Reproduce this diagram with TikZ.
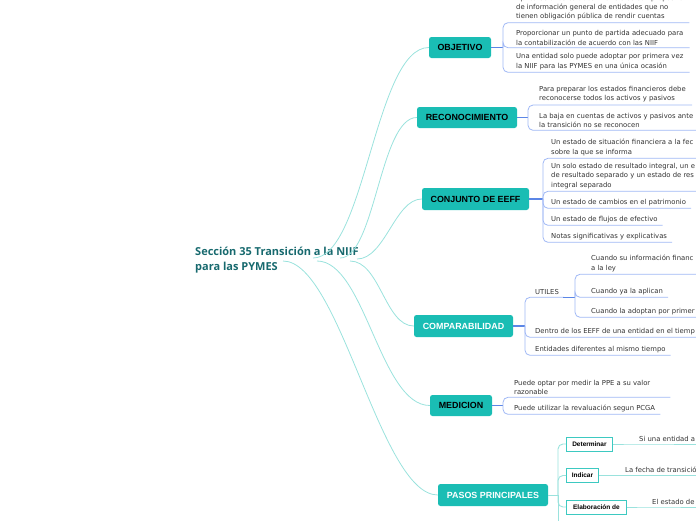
\documentclass[tikz,border=0pt]{standalone}
\usepackage{fontspec}
\setmainfont{Liberation Sans}
\newfontfamily\leaffont{DejaVu Sans}
\newfontfamily\rootfont{Open Sans}
\usetikzlibrary{calc}
\definecolor{teal1}{HTML}{1ABDB4}
\definecolor{rootc}{HTML}{17696E}
\definecolor{tealline}{HTML}{9AE2DD}
\definecolor{bluec}{HTML}{5B86E6}
\definecolor{bracketc}{HTML}{A0B8F5}
\definecolor{boxborder}{HTML}{3DC9C1}
\definecolor{textgray}{HTML}{333333}
\tikzset{
  mainbox/.style={fill=teal1, rounded corners=2.5pt, font=\bfseries\fontsize{8.9}{10}\selectfont, inner sep=0pt, minimum height=21pt, text=black},
  leaf/.style={font=\leaffont\fontsize{6.85}{9.3}\selectfont, align=left, anchor=south west, inner xsep=0pt, inner ysep=2.4pt, text=textgray},
  brk/.style={draw=bracketc, line width=0.8pt, rounded corners=5pt},
  conn/.style={draw=bluec, line width=1.6pt},
  rootlink/.style={draw=tealline, line width=0.8pt},
  plink/.style={draw=tealline, line width=0.9pt, rounded corners=5pt},
  pbox/.style={draw=boxborder, line width=0.9pt, fill=white, font=\bfseries\fontsize{6.5}{8}\selectfont, inner sep=0pt, minimum height=14pt, anchor=west},
  rootnode/.style={font=\rootfont\bfseries\fontsize{11}{15}\selectfont, text=rootc, align=left, anchor=north west, inner sep=0pt}
}
\begin{document}
\begin{tikzpicture}[x=1pt,y=-1pt]
\useasboundingbox (0,0) rectangle (696,520);
\clip (0,0) rectangle (696,520);

% root
\node[rootnode] (root) at (195,247) {Sección 35 Transición a la NIIF\\para las PYMES};
\coordinate (a1) at (313,258);
\coordinate (a2) at (340,258);
\coordinate (a3) at (357,259);
\coordinate (a4) at (350,261);
\coordinate (a5) at (317,261);
\coordinate (a6) at (283,261);

% main nodes
\node[mainbox, minimum width=62pt] (obj) at (460,47.5) {OBJETIVO};
\node[mainbox, minimum width=100pt] (rec) at (467,117.5) {RECONOCIMIENTO};
\node[mainbox, minimum width=107pt, minimum height=22pt] (con) at (475.5,199) {CONJUNTO DE EEFF};
\node[mainbox, minimum width=99pt, minimum height=22pt, text=white] (com) at (463.5,326) {COMPARABILIDAD};
\node[mainbox, minimum width=62pt] (med) at (461,405.5) {MEDICION};
\node[mainbox, minimum width=110pt, minimum height=22pt, text=white] (pas) at (493,495) {PASOS PRINCIPALES};

% root links
\draw[rootlink] (a1) .. controls (365,258) and (375,47.5) .. (obj.west);
\draw[rootlink] (a2) .. controls (375,258) and (380,117.5) .. (rec.west);
\draw[rootlink] (a3) .. controls (385,259) and (395,199) .. (con.west);
\draw[rootlink] (a4) .. controls (380,261) and (385,326) .. (com.west);
\draw[rootlink] (a5) .. controls (365,261) and (380,405.5) .. (med.west);
\draw[rootlink] (a6) .. controls (340,261) and (380,495) .. (pas.west);

% OBJETIVO
\coordinate (ob) at (503,47.5);
\node[leaf] (o1) at (516,22.7) {Aplicarse a los estados financieros con propósito\\de información general de entidades que no\\tienen obligación pública de rendir cuentas};
\node[leaf] (o2) at (516,47.7) {Proporcionar un punto de partida adecuado para\\la contabilización de acuerdo con las NIIF};
\node[leaf] (o3) at (516,72.3) {Una entidad solo puede adoptar por primera vez\\la NIIF para las PYMES en una única ocasión};
\draw[conn] (obj.east) -- (ob);
\draw[brk] (ob) -- (ob |- o1.south) -- ($(o1.south east)+(6,0)$);
\draw[brk] (ob) -- (ob |- o2.south) -- ($(o2.south east)+(6,0)$);
\draw[brk] (ob) -- (ob |- o3.south) -- ($(o3.south east)+(6,0)$);

% RECONOCIMIENTO
\coordinate (rb) at (528,117.5);
\node[leaf] (r1) at (539,105) {Para preparar los estados financieros debe\\reconocerse todos los activos y pasivos};
\node[leaf] (r2) at (539,130.3) {La baja en cuentas de activos y pasivos ante\\la transición no se reconocen};
\draw[conn] (rec.east) -- (rb);
\draw[brk] (rb) -- (rb |- r1.south) -- ($(r1.south east)+(6,0)$);
\draw[brk] (rb) -- (rb |- r2.south) -- ($(r2.south east)+(20,0)$);

% CONJUNTO DE EEFF
\coordinate (cb) at (543,199);
\node[leaf] (c1) at (551,158.3) {Un estado de situación financiera a la fec\\sobre la que se informa};
\node[leaf] (c2) at (551,191.3) {Un solo estado de resultado integral, un e\\de resultado separado y un estado de res\\integral separado};
\node[leaf] (c3) at (551,208.3) {Un estado de cambios en el patrimonio};
\node[leaf] (c4) at (551,225.3) {Un estado de flujos de efectivo};
\node[leaf] (c5) at (551,242.3) {Notas significativas y explicativas};
\draw[conn] (con.east) -- (cb);
\draw[brk] (cb) -- (cb |- c1.south) -- ($(c1.south east)+(20,0)$);
\draw[brk] (cb) -- (cb |- c2.south) -- ($(c2.south east)+(20,0)$);
\draw[brk] (cb) -- (cb |- c3.south) -- ($(c3.south east)+(5,0)$);
\draw[brk] (cb) -- (cb |- c4.south) -- ($(c4.south east)+(5,0)$);
\draw[brk] (cb) -- (cb |- c5.south) -- ($(c5.south east)+(5,0)$);

% COMPARABILIDAD
\coordinate (kb) at (525,326);
\node[leaf] (u) at (535,297.3) {UTILES};
\node[leaf] (k2) at (535,337.3) {Dentro de los EEFF de una entidad en el tiemp};
\node[leaf] (k3) at (535,355.3) {Entidades diferentes al mismo tiempo};
\draw[conn] (com.east) -- (kb);
\draw[brk] (kb) -- (kb |- u.south) -- ($(u.south east)+(5,0)$);
\draw[brk] (kb) -- (kb |- k2.south) -- ($(k2.south east)+(20,0)$);
\draw[brk] (kb) -- (kb |- k3.south) -- ($(k3.south east)+(5,0)$);
\coordinate (ub) at (575,297.3);
\draw[conn] ($(u.south east)+(4,0)$) -- (ub);
\node[leaf] (s1) at (591,274.3) {Cuando su información financ\\a la ley};
\node[leaf] (s2) at (591,297.3) {Cuando ya la aplican};
\node[leaf] (s3) at (591,317.3) {Cuando la adoptan por primer};
\draw[brk] (ub) -- (ub |- s1.south) -- ($(s1.south east)+(30,0)$);
\draw[brk] (ub) -- (ub |- s2.south) -- ($(s2.south east)+(5,0)$);
\draw[brk] (ub) -- (ub |- s3.south) -- ($(s3.south east)+(20,0)$);

% MEDICION
\coordinate (mb) at (503,405.5);
\node[leaf] (m1) at (514,397.3) {Puede optar por medir la PPE a su valor\\razonable};
\node[leaf] (m2) at (514,414.3) {Puede utilizar la revaluación segun PCGA};
\draw[conn] (med.east) -- (mb);
\draw[brk] (mb) -- (mb |- m1.south) -- ($(m1.south east)+(20,0)$);
\draw[brk] (mb) -- (mb |- m2.south) -- ($(m2.south east)+(5,0)$);

% PASOS PRINCIPALES
\coordinate (pb) at (558,495);
\coordinate (pend) at (558,530);
\node[pbox, minimum width=46pt] (det) at (566,444) {Determinar};
\node[pbox, minimum width=32pt] (ind) at (566,475.5) {Indicar};
\node[pbox, minimum width=60pt] (ela) at (566,507) {Elaboración de};
\draw[plink] (pas.east) -- (pb);
\draw[plink] (pb) -- (pb |- det.west) -- (det.west);
\draw[plink] (pb) -- (pb |- ind.west) -- (ind.west);
\draw[plink] (pb) -- (pb |- ela.west) -- (ela.west);
\draw[plink] (pb) -- (pend);
\node[leaf] (p1) at (639,444) {Si una entidad a};
\node[leaf] (p2) at (625,475.5) {La fecha de transició};
\node[leaf] (p3) at (652,507) {El estado de};
\draw[plink] (det.east) -- (p1.south west) -- ($(p1.south east)+(10,0)$);
\draw[plink] (ind.east) -- (p2.south west) -- ($(p2.south east)+(10,0)$);
\draw[plink] (ela.east) -- (p3.south west) -- ($(p3.south east)+(10,0)$);
\end{tikzpicture}
\end{document}
